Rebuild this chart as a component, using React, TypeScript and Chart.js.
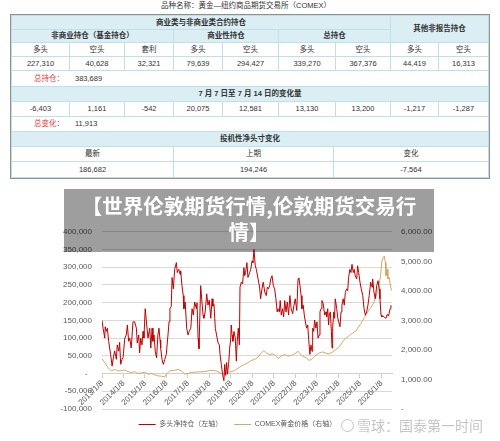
import React, { useEffect, useRef } from 'react';
import { Chart, registerables } from 'chart.js';

Chart.register(...registerables);

// ---------- Table data ----------
const titleText = '品种名称：黄金—纽约商品期货交易所（COMEX）';
const groupHeader = '商业类与非商业类合约持仓';
const otherHeader = '其他非报告持仓';
const subHeaders = ['非商业持仓（基金持仓）', '商业性持仓', '总持仓'];
const sideLabels = ['多头', '空头', '套利', '多头', '空头', '多头', '空头', '多头', '空头'];
const positionValues = ['227,310', '40,628', '32,321', '79,639', '294,427', '339,270', '367,376', '44,419', '16,313'];
const totalLabel = '总持仓：';
const totalValue = '383,689';
const changeHeader = '7 月 7 日至 7 月 14 日的变化量';
const changeValues = ['-6,403', '1,161', '-542', '20,075', '12,581', '13,130', '13,200', '-1,217', '-1,287'];
const changeLabel = '总变化：';
const changeTotal = '11,913';
const specHeader = '投机性净头寸变化';
const specLabels = ['最新', '上期', '变化'];
const specValues = ['186,682', '194,246', '-7,564'];

// ---------- Chart data ----------
const bannerLines = ['【世界伦敦期货行情,伦敦期货交易行', '情】'];
const seriesNames = ['多头净持仓（左轴）', 'COMEX黄金价格（右轴）'];
const yearTicks = [2013, 2014, 2015, 2016, 2017, 2018, 2019, 2020, 2021, 2022, 2023, 2024, 2025, 2026];

const netDates = [
  2013.00, 2013.05, 2013.13, 2013.15, 2013.20, 2013.25, 2013.31, 2013.40, 2013.47, 2013.54,
  2013.59, 2013.67, 2013.71, 2013.78, 2013.82, 2013.87, 2013.93, 2013.98, 2014.06, 2014.13,
  2014.18, 2014.24, 2014.29, 2014.36, 2014.44, 2014.52, 2014.60, 2014.64, 2014.71, 2014.75,
  2014.80, 2014.86, 2014.91, 2014.95, 2015.01, 2015.08, 2015.14, 2015.22, 2015.27, 2015.33,
  2015.37, 2015.42, 2015.48, 2015.54, 2015.60, 2015.65, 2015.70, 2015.73, 2015.79, 2015.85,
  2015.92, 2015.99, 2016.07, 2016.12, 2016.16, 2016.22, 2016.26, 2016.32, 2016.38, 2016.46,
  2016.50, 2016.57, 2016.63, 2016.66, 2016.72, 2016.78, 2016.81, 2016.87, 2016.94, 2017.00,
  2017.06, 2017.13, 2017.19, 2017.25, 2017.31, 2017.39, 2017.42, 2017.47, 2017.51, 2017.59,
  2017.65, 2017.70, 2017.74, 2017.80, 2017.87, 2017.93, 2017.99, 2018.06, 2018.12, 2018.16,
  2018.21, 2018.27, 2018.33, 2018.40, 2018.46, 2018.49, 2018.55, 2018.61, 2018.67, 2018.71,
  2018.75, 2018.80, 2018.83, 2018.89, 2018.94, 2018.99, 2019.01, 2019.05, 2019.09, 2019.14,
  2019.20, 2019.25, 2019.29, 2019.34, 2019.39, 2019.42, 2019.48, 2019.54, 2019.60, 2019.64,
  2019.68, 2019.74, 2019.79, 2019.87, 2019.92, 2019.98, 2020.02, 2020.07, 2020.13, 2020.18,
  2020.26, 2020.33, 2020.38, 2020.44, 2020.50, 2020.57, 2020.64, 2020.69, 2020.75, 2020.80,
  2020.85, 2020.91, 2020.97, 2021.03, 2021.09, 2021.15, 2021.19, 2021.25, 2021.29, 2021.34,
  2021.40, 2021.45, 2021.50, 2021.56, 2021.62, 2021.68, 2021.74, 2021.80, 2021.87, 2021.93,
  2021.99, 2022.06, 2022.12, 2022.16, 2022.21, 2022.26, 2022.30, 2022.36, 2022.41, 2022.46,
  2022.52, 2022.57, 2022.61, 2022.67, 2022.72, 2022.77, 2022.80, 2022.85, 2022.89, 2022.95,
  2023.00, 2023.05, 2023.11, 2023.14, 2023.19, 2023.23, 2023.29, 2023.36, 2023.42, 2023.45,
  2023.50, 2023.54, 2023.57, 2023.62, 2023.67, 2023.70, 2023.73, 2023.78, 2023.82, 2023.85,
  2023.92, 2023.96, 2024.01, 2024.07, 2024.12, 2024.16, 2024.22, 2024.27, 2024.32, 2024.38,
  2024.43, 2024.47, 2024.53, 2024.58, 2024.63, 2024.69, 2024.73, 2024.78, 2024.85, 2024.89,
  2024.94, 2025.00, 2025.06, 2025.13, 2025.19, 2025.25, 2025.31, 2025.37, 2025.43, 2025.50,
  2025.56, 2025.59, 2025.65, 2025.71, 2025.78, 2025.84, 2025.90, 2025.93, 2025.98, 2026.02,
  2026.08, 2026.15, 2026.21, 2026.27, 2026.33, 2026.40, 2026.44,
];
const netLong = [
  150000, 128000, 100000, 132000, 119000, 128000, 91000, 54000, 21000, 49000,
  64000, 40000, 81000, 63000, 88000, 26000, 40000, 45000, 100000, 109000,
  137000, 91000, 100000, 72000, 146000, 146000, 128000, 86000, 109000, 58000,
  100000, 81000, 119000, 100000, 183000, 137000, 100000, 128000, 72000, 128000,
  91000, 109000, 61000, 44000, 109000, 128000, 95000, 72000, 40000, 26000,
  40000, 54000, 109000, 146000, 183000, 189000, 271000, 239000, 294000, 313000,
  285000, 294000, 280000, 290000, 248000, 220000, 183000, 202000, 128000, 109000,
  119000, 128000, 183000, 165000, 202000, 183000, 200000, 100000, 70000, 248000,
  202000, 165000, 156000, 174000, 225000, 193000, 207000, 156000, 211000, 190000,
  195000, 128000, 109000, 86000, 81000, 54000, 26000, -2000, -20000, 26000,
  -5000, 31000, -2000, 26000, 72000, 100000, 137000, 109000, 91000, 119000,
  100000, 35000, 91000, 128000, 81000, 244000, 258000, 253000, 299000, 276000,
  285000, 313000, 271000, 285000, 294000, 318000, 313000, 350000, 304000, 294000,
  267000, 244000, 211000, 239000, 258000, 230000, 220000, 244000, 239000, 248000,
  267000, 276000, 248000, 239000, 211000, 174000, 183000, 174000, 206000, 165000,
  183000, 160000, 206000, 174000, 202000, 165000, 220000, 183000, 169000, 193000,
  211000, 178000, 267000, 270000, 248000, 220000, 183000, 193000, 165000, 146000,
  128000, 137000, 100000, 54000, 81000, 63000, 128000, 119000, 151000, 128000,
  146000, 100000, 109000, 174000, 183000, 206000, 197000, 165000, 174000, 160000,
  183000, 137000, 165000, 174000, 119000, 72000, 128000, 174000, 156000, 211000,
  183000, 160000, 146000, 132000, 174000, 193000, 211000, 193000, 229000, 239000,
  234000, 271000, 294000, 285000, 308000, 285000, 294000, 276000, 267000, 304000,
  285000, 258000, 239000, 220000, 183000, 165000, 174000, 193000, 220000, 258000,
  244000, 267000, 230000, 211000, 248000, 262000, 239000, 211000, 165000, 160000,
  162000, 158000, 156000, 167000, 162000, 183000, 193000,
];

const goldDates = [
  2013.00, 2013.13, 2013.28, 2013.43, 2013.59, 2013.74, 2013.90, 2014.06, 2014.21, 2014.36,
  2014.52, 2014.67, 2014.83, 2014.99, 2015.14, 2015.29, 2015.45, 2015.60, 2015.76, 2015.92,
  2015.99, 2016.15, 2016.38, 2016.53, 2016.69, 2016.85, 2017.00, 2017.15, 2017.31, 2017.47,
  2017.78, 2018.08, 2018.32, 2018.55, 2018.71, 2018.86, 2019.01, 2019.17, 2019.33, 2019.48,
  2019.64, 2019.79, 2019.94, 2020.10, 2020.26, 2020.41, 2020.53, 2020.64, 2020.80, 2020.95,
  2021.11, 2021.19, 2021.34, 2021.50, 2021.65, 2021.80, 2021.96, 2022.12, 2022.18, 2022.33,
  2022.49, 2022.64, 2022.80, 2022.95, 2023.11, 2023.27, 2023.42, 2023.57, 2023.73, 2023.88,
  2024.04, 2024.20, 2024.35, 2024.50, 2024.66, 2024.81, 2024.89, 2025.05, 2025.20, 2025.31,
  2025.47, 2025.62, 2025.74, 2025.87, 2025.96, 2026.02, 2026.08, 2026.13, 2026.18, 2026.21,
  2026.26, 2026.30, 2026.36, 2026.43, 2026.47,
];
const goldPrice = [
  1700, 1567, 1400, 1290, 1343, 1290, 1300, 1320, 1267, 1233,
  1267, 1200, 1222, 1244, 1178, 1200, 1156, 1122, 1111, 1089,
  1178, 1290, 1311, 1343, 1290, 1178, 1200, 1244, 1244, 1256,
  1267, 1311, 1290, 1200, 1178, 1222, 1267, 1300, 1380, 1456,
  1511, 1567, 1644, 1678, 1756, 1900, 1978, 1900, 1845, 1867,
  1789, 1711, 1789, 1845, 1789, 1811, 1867, 1956, 1900, 1789,
  1733, 1644, 1711, 1822, 1900, 1933, 1889, 1867, 1933, 2011,
  2111, 2289, 2400, 2489, 2567, 2644, 2733, 2900, 3089, 3233,
  3400, 3567, 3789, 4122, 4511, 5011, 5122, 5178, 4956, 4511,
  4733, 4400, 4456, 4122, 4011,
];

// ---------- Layout constants ----------
const COLS = [11, 69, 124, 173, 222, 278, 335, 390, 438, 488];
const ROWS = [15, 29, 42, 56, 70, 86, 101, 116, 131, 146, 161, 177];
const SPEC_COLS = [11, 173, 333, 488];
const BLUE = '#dbeef4';
const LINE = '#bfdfea';
const TXT = '#333333';
const RED_TXT = '#e8383d';
const FONT = "'Liberation Sans', 'Noto Sans CJK SC', sans-serif";
const TICK_COLOR = '#595959';

type CellProps = {
  x0: number; x1: number; y0: number; y1: number;
  children?: React.ReactNode; bg?: string; bold?: boolean;
  noRight?: boolean; align?: 'center' | 'left';
};

function Cell({ x0, x1, y0, y1, children, bg, bold, noRight, align }: CellProps) {
  return (
    <div
      style={{
        position: 'absolute', left: x0, top: y0, width: x1 - x0 + 1, height: y1 - y0 + 1,
        boxSizing: 'border-box', border: `1px solid ${LINE}`,
        borderRightColor: noRight ? 'transparent' : LINE,
        background: bg || '#ffffff',
        display: 'flex', alignItems: 'center',
        justifyContent: align === 'left' ? 'flex-start' : 'center',
        fontSize: 7.5, fontWeight: bold ? 700 : 400, color: TXT, fontFamily: FONT,
        whiteSpace: 'nowrap', lineHeight: 1,
      }}
    >
      {children}
    </div>
  );
}

function Table() {
  const cells: React.ReactNode[] = [];
  let k = 0;
  cells.push(<Cell key={k++} x0={COLS[0]} x1={COLS[7]} y0={ROWS[0]} y1={ROWS[1]} bg={BLUE} bold>{groupHeader}</Cell>);
  cells.push(<Cell key={k++} x0={COLS[7]} x1={COLS[9]} y0={ROWS[0]} y1={ROWS[2]} bg={BLUE} bold>{otherHeader}</Cell>);
  cells.push(<Cell key={k++} x0={COLS[0]} x1={COLS[3]} y0={ROWS[1]} y1={ROWS[2]} bg={BLUE} bold>{subHeaders[0]}</Cell>);
  cells.push(<Cell key={k++} x0={COLS[3]} x1={COLS[5]} y0={ROWS[1]} y1={ROWS[2]} bg={BLUE} bold>{subHeaders[1]}</Cell>);
  cells.push(<Cell key={k++} x0={COLS[5]} x1={COLS[7]} y0={ROWS[1]} y1={ROWS[2]} bg={BLUE} bold>{subHeaders[2]}</Cell>);
  sideLabels.forEach((t, i) => {
    cells.push(<Cell key={k++} x0={COLS[i]} x1={COLS[i + 1]} y0={ROWS[2]} y1={ROWS[3]}>{t}</Cell>);
  });
  positionValues.forEach((t, i) => {
    cells.push(<Cell key={k++} x0={COLS[i]} x1={COLS[i + 1]} y0={ROWS[3]} y1={ROWS[4]}>{t}</Cell>);
  });
  cells.push(
    <Cell key={k++} x0={COLS[0]} x1={COLS[9]} y0={ROWS[4]} y1={ROWS[5]} align="left">
      <span style={{ color: RED_TXT, marginLeft: 22, width: 41, display: 'inline-block' }}>{totalLabel}</span>
      <span>{totalValue}</span>
    </Cell>
  );
  cells.push(<Cell key={k++} x0={COLS[0]} x1={COLS[9]} y0={ROWS[5]} y1={ROWS[6]} bg={BLUE} bold>{changeHeader}</Cell>);
  changeValues.forEach((t, i) => {
    cells.push(<Cell key={k++} x0={COLS[i]} x1={COLS[i + 1]} y0={ROWS[6]} y1={ROWS[7]}>{t}</Cell>);
  });
  cells.push(
    <Cell key={k++} x0={COLS[0]} x1={COLS[9]} y0={ROWS[7]} y1={ROWS[8]} align="left">
      <span style={{ color: RED_TXT, marginLeft: 22, width: 41, display: 'inline-block' }}>{changeLabel}</span>
      <span>{changeTotal}</span>
    </Cell>
  );
  cells.push(<Cell key={k++} x0={COLS[0]} x1={COLS[9]} y0={ROWS[8]} y1={ROWS[9]} bg={BLUE} bold>{specHeader}</Cell>);
  specLabels.forEach((t, i) => {
    cells.push(<Cell key={k++} x0={SPEC_COLS[i]} x1={SPEC_COLS[i + 1]} y0={ROWS[9]} y1={ROWS[10]}>{t}</Cell>);
  });
  specValues.forEach((t, i) => {
    cells.push(<Cell key={k++} x0={SPEC_COLS[i]} x1={SPEC_COLS[i + 1]} y0={ROWS[10]} y1={ROWS[11]}>{t}</Cell>);
  });
  return (
    <>
      <div style={{
        position: 'absolute', left: 0, top: 0, width: 500, height: 12,
        textAlign: 'center', fontSize: 7.5, lineHeight: '12px', color: TXT, fontFamily: FONT,
        paddingLeft: 0, boxSizing: 'border-box', textIndent: -8,
      }}>{titleText}</div>
      {cells}
      <div style={{
        position: 'absolute', left: COLS[0] - 1, top: ROWS[0] - 1,
        width: COLS[9] - COLS[0] + 3, height: ROWS[11] - ROWS[0] + 3,
        boxSizing: 'border-box', border: '1px solid #8f8f8f', pointerEvents: 'none',
      }} />
    </>
  );
}

function ChartView() {
  const ref = useRef<HTMLCanvasElement | null>(null);
  useEffect(() => {
    if (!ref.current) return;
    const tickFont = { size: 8, family: FONT };
    const chart = new Chart(ref.current, {
      type: 'line',
      data: {
        datasets: [
          {
            label: seriesNames[0],
            data: netDates.map((d, i) => ({ x: d, y: netLong[i] })),
            borderColor: '#c00000',
            backgroundColor: '#c00000',
            borderWidth: 1,
            pointRadius: 0,
            yAxisID: 'y',
            tension: 0,
          },
          {
            label: seriesNames[1],
            data: goldDates.map((d, i) => ({ x: d, y: goldPrice[i] })),
            borderColor: '#d4a867',
            backgroundColor: '#d4a867',
            borderWidth: 1,
            pointRadius: 0,
            yAxisID: 'y1',
            tension: 0,
          },
        ],
      },
      options: {
        responsive: false,
        animation: false,
        events: [],
        layout: { padding: { top: 10, left: 0, right: 25, bottom: 3 } },
        plugins: {
          tooltip: { enabled: false },
          legend: {
            position: 'bottom',
            labels: {
              usePointStyle: true,
              pointStyle: 'line',
              pointStyleWidth: 17,
              boxHeight: 7,
              padding: 12,
              color: TICK_COLOR,
              font: { size: 7, family: FONT },
            },
          },
        },
        scales: {
          x: {
            type: 'linear',
            min: 2013,
            max: 2026.49,
            position: { y: 0 } as any,
            afterBuildTicks: (s: any) => { s.ticks = yearTicks.map((v) => ({ value: v })); },
            afterFit: (s: any) => { s.height = 2; },
            ticks: {
              autoSkip: false,
              minRotation: 45,
              maxRotation: 45,
              padding: 1,
              color: TICK_COLOR,
              font: tickFont,
              callback: (v: any) => `${v}/1/8`,
            },
            grid: { drawOnChartArea: false, drawTicks: true, tickLength: 4, color: '#d0d0d0' },
            border: { display: true, color: '#d0d0d0' },
          },
          y: {
            type: 'linear',
            position: 'left',
            min: -100000,
            max: 400000,
            afterFit: (s: any) => { s.width = 102; },
            ticks: {
              stepSize: 50000,
              padding: 10,
              color: TICK_COLOR,
              font: tickFont,
              callback: (v: any) => (Number(v) === 0 ? '-  ' : Number(v).toLocaleString('en-US')),
            },
            grid: { color: '#d9d9d9', drawTicks: false },
            border: { display: false },
          },
          y1: {
            type: 'linear',
            position: 'right',
            min: 0,
            max: 6000,
            afterFit: (s: any) => { s.width = 83; },
            ticks: {
              stepSize: 1000,
              padding: 9,
              color: TICK_COLOR,
              font: tickFont,
              callback: (v: any) => (Number(v) === 0 ? '-' : Number(v).toLocaleString('en-US', { minimumFractionDigits: 2, maximumFractionDigits: 2 })),
            },
            grid: { drawOnChartArea: false, drawTicks: false },
            border: { display: false },
          },
        },
      } as any,
    });
    return () => chart.destroy();
  }, []);
  return (
    <div style={{ position: 'absolute', left: 0, top: 217, width: 500, height: 224 }}>
      <canvas ref={ref} width={500} height={224} style={{ display: 'block', width: 500, height: 224 }} />
    </div>
  );
}

export default function App() {
  return (
    <div style={{
      position: 'absolute', left: 0, top: 0, width: 500, height: 441,
      overflow: 'hidden', background: '#ffffff', fontFamily: FONT,
    }}>
      <Table />
      <ChartView />
      <div style={{
        position: 'absolute', left: 64, top: 189, width: 370, height: 63,
        background: 'rgba(0,0,0,0.38)', color: '#ffffff', fontWeight: 700,
        fontFamily: "'Noto Sans CJK SC', sans-serif", fontSize: 20.5, lineHeight: '26px',
        textAlign: 'center', paddingTop: 3, boxSizing: 'border-box', whiteSpace: 'nowrap',
      }}>
        <div>{bannerLines[0]}</div>
        <div>{bannerLines[1]}</div>
      </div>
      <div style={{
        position: 'absolute', left: 341, top: 417, height: 16, display: 'flex', alignItems: 'center',
        color: 'rgba(150,150,150,0.55)', fontFamily: "'Noto Sans CJK SC', sans-serif", fontSize: 14,
        whiteSpace: 'nowrap', pointerEvents: 'none',
      }}>
        <span style={{
          display: 'inline-block', width: 11, height: 11, borderRadius: '50%',
          border: '1.5px solid rgba(150,150,150,0.55)', marginRight: 3,
        }} />
        <span>雪球：国泰第一时间</span>
      </div>
    </div>
  );
}
